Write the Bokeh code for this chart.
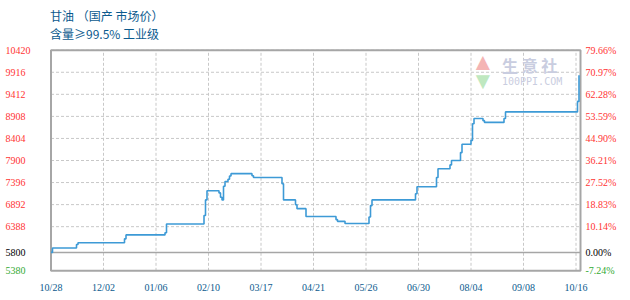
from bokeh.plotting import figure
from bokeh.models import ColumnDataSource, LabelSet, Label, Range1d
from bokeh.embed import file_html
from bokeh.resources import INLINE

# ---------------- data ----------------
title_line1 = "甘油 （国产 市场价）"
title_line2 = "含量≥99.5% 工业级"

x_tick_days = [0, 35, 70, 105, 140, 175, 210, 245, 280, 315, 350]
x_tick_labels = ["10/28", "12/02", "01/06", "02/10", "03/17", "04/21",
                 "05/26", "06/30", "08/04", "09/08", "10/16"]

y_ticks = [10420, 9916, 9412, 8908, 8404, 7900, 7396, 6892, 6388, 5800, 5380]
base_price = 5800

days = [0, 1, 17, 18, 49, 50, 76, 77, 102, 103, 104, 112, 113, 114, 115, 116,
        118, 119, 120, 134, 135, 154, 155, 163, 164, 170, 190, 191, 196, 212,
        213, 214, 243, 244, 257, 258, 266, 267, 273, 274, 280, 281, 282, 288,
        289, 302, 303, 351, 352]
prices = [5800, 5900, 5980, 6020, 6110, 6200, 6250, 6450, 6645, 7000, 7210,
          7160, 7060, 7000, 7310, 7420, 7470, 7545, 7600, 7550, 7510, 7370,
          7000, 6890, 6800, 6620, 6550, 6510, 6460, 6610, 6870, 7000, 7140,
          7300, 7510, 7710, 7800, 7900, 8080, 8270, 8360, 8740, 8860, 8810,
          8770, 8860, 9010, 9250, 9850]

# ---------------- layout / styling ----------------
RED = "#ff3333"
GREEN = "#33aa33"
BLUE_TXT = "#0b5a8e"
GRID = "#c8c8c8"
BORDER = "#a6a6a6"
MONO = "DejaVu Sans Mono"

W, H = 630, 300
X_END = 353                 # day at right edge of plot area
PX_LEFT, PX_RIGHT = 50.5, 580.0
PX_TOP, PX_BOTTOM = 49.7, 270.3
y_lo, y_hi = y_ticks[-1], y_ticks[0]

kx = (PX_RIGHT - PX_LEFT) / X_END
ky = (PX_BOTTOM - PX_TOP) / (y_hi - y_lo)

p = figure(width=W, height=H,
           x_range=Range1d(-PX_LEFT / kx, (W - PX_LEFT) / kx),
           y_range=Range1d(y_lo - (H - PX_BOTTOM) / ky, y_hi + PX_TOP / ky),
           output_backend="svg", toolbar_location=None, title=None,
           x_axis_location=None, y_axis_location=None, min_border=0)
p.min_border_left = p.min_border_right = p.min_border_top = p.min_border_bottom = 0
p.outline_line_color = None
p.background_fill_color = "white"
p.border_fill_color = "white"
p.xgrid.visible = False
p.ygrid.visible = False

# horizontal dashed grid lines
hg = [t for t in y_ticks if t not in (base_price, y_lo)]
p.segment(x0=[0] * len(hg), x1=[X_END] * len(hg), y0=hg, y1=hg,
          line_color=GRID, line_dash="3 2", line_width=1)
# vertical dashed grid lines
vg = x_tick_days[1:]
p.segment(x0=vg, x1=vg, y0=[y_lo] * len(vg), y1=[y_hi] * len(vg),
          line_color=GRID, line_dash="3 2", line_width=1)
# base line
p.segment(x0=[0], x1=[X_END], y0=[base_price], y1=[base_price],
          line_color=BORDER, line_width=1.5)
# plot-area border
p.quad(left=[0], right=[X_END], bottom=[y_lo], top=[y_hi],
       fill_alpha=0, line_color=BORDER, line_width=2)

# price line
p.step(days, prices, mode="after", line_color="#3d9ad6", line_width=1.6)

# left/right tick labels with individual colours
colors = [RED if t > base_price else ("black" if t == base_price else GREEN) for t in y_ticks]
pct = ["%.2f%%" % ((t - base_price) / base_price * 100) for t in y_ticks]
src = ColumnDataSource(dict(x0=[0] * len(y_ticks), x1=[X_END] * len(y_ticks),
                            y=y_ticks, t=[str(t) for t in y_ticks], pct=pct, c=colors))
p.add_layout(LabelSet(x="x0", y="y", text="t", source=src, text_color="c",
                      x_offset=-45.5, text_align="left", text_baseline="middle",
                      text_font=MONO, text_font_size="10px"))
p.add_layout(LabelSet(x="x1", y="y", text="pct", source=src, text_color="c",
                      x_offset=5, text_align="left", text_baseline="middle",
                      text_font=MONO, text_font_size="10px"))

# x tick labels
xsrc = ColumnDataSource(dict(x=x_tick_days, y=[y_lo] * len(x_tick_days), t=x_tick_labels))
p.add_layout(LabelSet(x="x", y="y", text="t", source=xsrc, text_color=BLUE_TXT,
                      y_offset=-16.7, text_align="center", text_baseline="middle",
                      text_font=MONO, text_font_size="10px"))

# titles
p.add_layout(Label(x=0, y=y_hi, x_offset=-1, y_offset=35, text=title_line1,
                   text_font="Noto Sans CJK SC", text_font_size="12px",
                   text_color=BLUE_TXT, text_baseline="middle"))
p.add_layout(Label(x=0, y=y_hi, x_offset=-1, y_offset=16.5, text=title_line2,
                   text_font="Noto Sans CJK SC", text_font_size="12px",
                   text_color=BLUE_TXT, text_baseline="middle"))

# watermark
p.add_layout(Label(x=0, y=y_hi, x_offset=420, y_offset=-11, text="▲",
                   text_font_size="24px", text_color="#f4b4b4", text_baseline="middle"))
p.add_layout(Label(x=0, y=y_hi, x_offset=420, y_offset=-30, text="▼",
                   text_font_size="24px", text_color="#bfe8c0", text_baseline="middle"))
p.add_layout(Label(x=0, y=y_hi, x_offset=451, y_offset=-15, text="生 意 社",
                   text_font="Noto Sans CJK SC", text_font_size="16px", text_font_style="bold",
                   text_color="#c9cde0", text_baseline="middle"))
p.add_layout(Label(x=0, y=y_hi, x_offset=451, y_offset=-31, text="100PPI.COM",
                   text_font=MONO, text_font_size="10px",
                   text_color="#c9cde0", text_baseline="middle"))

open("out.html", "w").write(file_html(p, INLINE))
